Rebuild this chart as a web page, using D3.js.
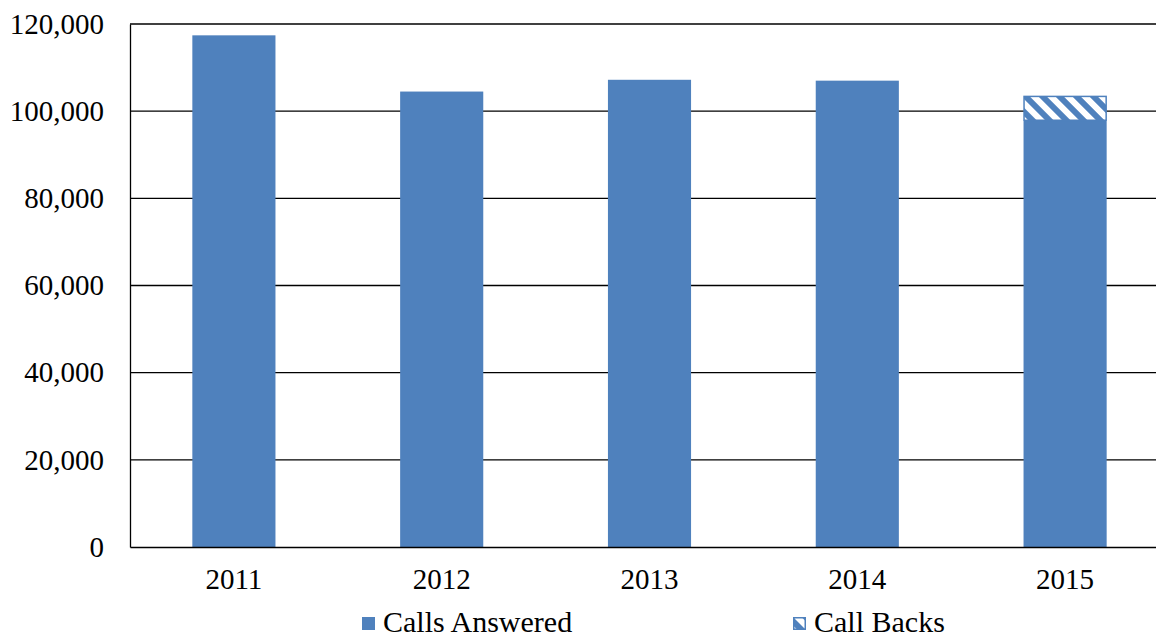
<!DOCTYPE html>
<html><head><meta charset="utf-8">
<script src="https://cdn.jsdelivr.net/npm/d3@7"></script>
<style>body{margin:0;background:#fff;}svg{display:block;}</style>
</head><body>
<svg id="c" width="1156" height="640"></svg>
<script>
const years = ["2011","2012","2013","2014","2015"];
const callsAnswered = [117400, 104500, 107200, 107000, 97800];
const callBacks = [0, 0, 0, 0, 5700];
const yTicks = [0, 20000, 40000, 60000, 80000, 100000, 120000];
const seriesNames = ["Calls Answered", "Call Backs"];

const svg = d3.select("#c");
const font = "'Liberation Serif','Times New Roman',serif";
const blue = "#4F81BD";
const fs = 29;

const defs = svg.append("defs");
const pat = defs.append("pattern").attr("id","hatch").attr("patternUnits","userSpaceOnUse")
  .attr("width",12).attr("height",12).attr("patternTransform","rotate(45)");
pat.append("rect").attr("width",12).attr("height",12).attr("fill","#fff");
pat.append("rect").attr("width",12).attr("height",6).attr("fill",blue);

const L = 130, R = 1169, T = 24, B = 547;
const x = d3.scaleBand().domain(years).range([L, R]).padding(0);
const y = d3.scaleLinear().domain([0, 120000]).range([B, T]);
const bw = x.bandwidth() * 0.4;

// gridlines
svg.append("g").selectAll("line").data(yTicks.filter(d=>d>0)).join("line")
  .attr("x1", L).attr("x2", R).attr("y1", d=>y(d)).attr("y2", d=>y(d))
  .attr("stroke","#000").attr("stroke-width",1.3);

// bars
const g = svg.append("g");
years.forEach((yr,i)=>{
  const cx = x(yr) + x.bandwidth()/2;
  g.append("rect").attr("x", cx-bw/2).attr("width", bw)
    .attr("y", y(callsAnswered[i])).attr("height", y(0)-y(callsAnswered[i]))
    .attr("fill", blue);
  if (callBacks[i] > 0) {
    const top = callsAnswered[i] + callBacks[i];
    g.append("rect").attr("x", cx-bw/2+0.5).attr("width", bw-1)
      .attr("y", y(top)+0.5).attr("height", y(callsAnswered[i])-y(top)-1)
      .attr("fill","url(#hatch)").attr("stroke", blue).attr("stroke-width",1.5);
  }
});

// axes
const yAxis = d3.axisLeft(y).tickValues(yTicks).tickSize(0).tickPadding(26)
  .tickFormat(d3.format(","));
const ya = svg.append("g").attr("transform",`translate(${L},0)`).call(yAxis);
ya.select(".domain").attr("stroke","#000").attr("stroke-width",1.3);
ya.selectAll("text").attr("font-family",font).attr("font-size",fs).attr("fill","#000");

const xAxis = d3.axisBottom(x).tickSize(0).tickPadding(21);
const xa = svg.append("g").attr("transform",`translate(0,${B})`).call(xAxis);
xa.select(".domain").attr("stroke","#000").attr("stroke-width",1.3);
xa.selectAll("text").attr("font-family",font).attr("font-size",fs).attr("fill","#000");

// legend
const leg = svg.append("g");
const legX = [362, 793];
seriesNames.forEach((n,i)=>{
  const gx = leg.append("g").attr("transform",`translate(${legX[i]},617)`);
  if (i===0) gx.append("rect").attr("width",13).attr("height",13).attr("fill",blue);
  else gx.append("rect").attr("x",0.75).attr("y",0.75).attr("width",11.5).attr("height",11.5)
        .attr("fill","url(#hatch)").attr("stroke",blue).attr("stroke-width",1.5);
  gx.append("text").attr("x",21).attr("y",15).text(n)
    .attr("font-family",font).attr("font-size",30).attr("fill","#000");
});
</script>
</body></html>
